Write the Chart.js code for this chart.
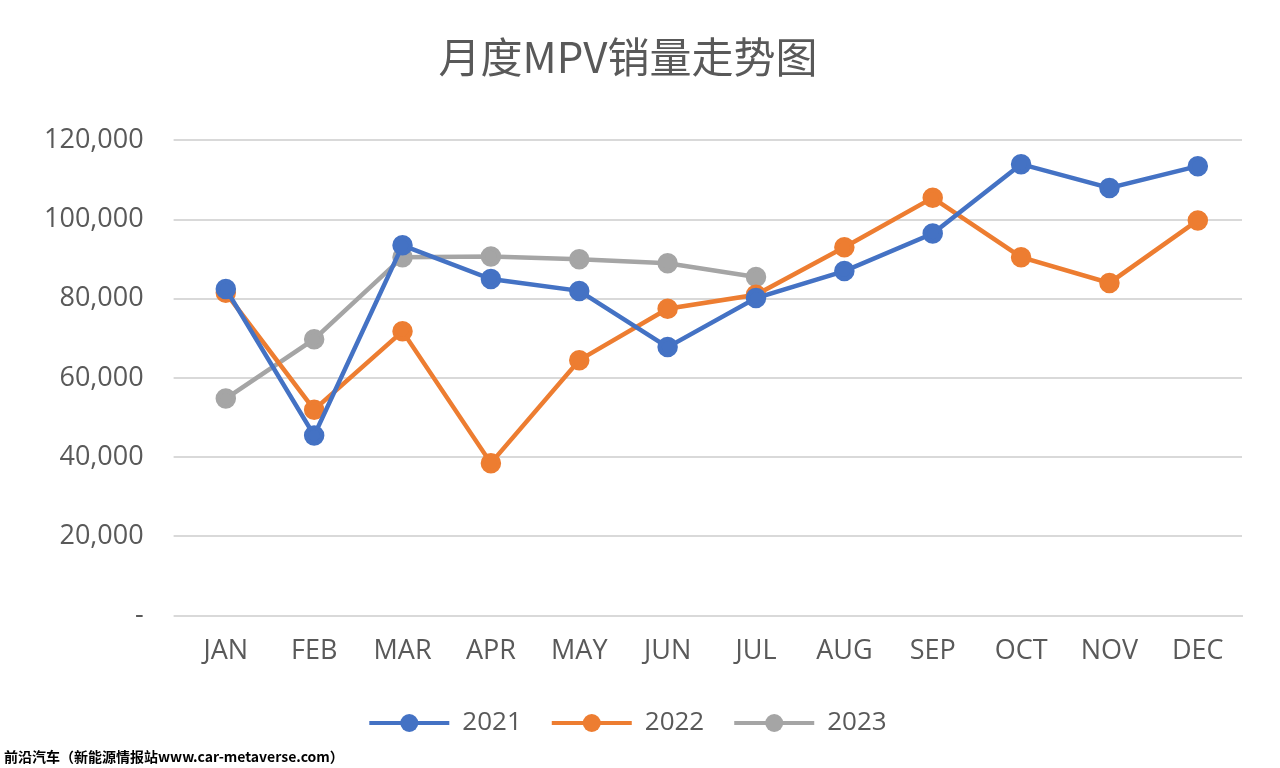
<!DOCTYPE html>
<html lang="zh-CN">
<head>
<meta charset="UTF-8">
<title>月度MPV销量走势图</title>
<script src="https://cdn.jsdelivr.net/npm/chart.js"></script>
<style>
  html, body { margin: 0; padding: 0; background: #fff; }
  #wrap { position: relative; width: 1280px; height: 768px; }
  #mark { position: absolute; left: 4px; top: 746px; font: bold 14px "Noto Sans CJK SC", sans-serif; color: #000; }
</style>
</head>
<body>
<div id="wrap">
  <canvas id="chart" width="1280" height="768"></canvas>
  <div id="mark">前沿汽车（新能源情报站www.car-metaverse.com）</div>
</div>
<script>
const months = ['JAN','FEB','MAR','APR','MAY','JUN','JUL','AUG','SEP','OCT','NOV','DEC'];
const sales2021 = [82500, 45500, 93500, 85000, 82000, 67800, 80200, 87000, 96500, 114000, 108000, 113500];
const sales2022 = [81500, 52000, 71800, 38500, 64500, 77500, 81000, 93000, 105500, 90500, 84000, 99800];
const sales2023 = [54800, 69800, 90500, 90700, 90000, 89000, 85500];

const font = '"Open Sans", "Noto Sans CJK SC", sans-serif';
function line(label, data, color) {
    return { label, data, borderColor: color, backgroundColor: color, borderWidth: 4.5,
             pointRadius: 8, pointHoverRadius: 8, tension: 0 };
}

// legend entries: line with a dot in the middle, like the original
const legendDots = {
    id: 'legendDots',
    afterDraw(chart) {
        const lg = chart.legend, ctx = chart.ctx;
        lg.legendHitBoxes.forEach((b, i) => {
            const c = chart.data.datasets[i].borderColor;
            ctx.save();
            ctx.fillStyle = c;
            ctx.beginPath();
            ctx.arc(b.left + 40, b.top + b.height / 2, 9, 0, Math.PI * 2);
            ctx.fill();
            ctx.restore();
        });
    }
};

new Chart(document.getElementById('chart'), {
    type: 'line',
    data: {
        labels: months,
        datasets: [
            line('2021', sales2021, '#4472C4'),
            line('2022', sales2022, '#ED7D31'),
            line('2023', sales2023, '#A5A5A5')
        ]
    },
    options: {
        responsive: false,
        animation: false,
        layout: { padding: { left: 14, right: 38, top: 10, bottom: 22 } },
        plugins: {
            title: { display: true, text: '月度MPV销量走势图', color: '#595959',
                     font: { family: '"Noto Sans CJK SC", sans-serif', size: 42, weight: 'normal' },
                     padding: { top: 22, bottom: 58 } },
            legend: { position: 'bottom', labels: { color: '#595959', font: { family: font, size: 26 },
                      boxWidth: 80, boxHeight: 4, padding: 30,
                      generateLabels: chart => chart.data.datasets.map((d, i) => ({
                          text: d.label, fillStyle: d.borderColor, strokeStyle: d.borderColor,
                          lineWidth: 0, fontColor: '#595959', datasetIndex: i })) } },
            tooltip: { enabled: false }
        },
        scales: {
            x: { offset: true, grid: { display: false }, border: { color: '#D9D9D9', width: 2 },
                 ticks: { color: '#595959', font: { family: font, size: 27 }, padding: 12 } },
            y: { min: 0, max: 120000, grid: { color: '#D9D9D9', lineWidth: 2 }, border: { display: false },
                 ticks: { stepSize: 20000, color: '#595959', font: { family: font, size: 27 }, padding: 30,
                          callback: v => v === 0 ? '-' : v.toLocaleString('en-US') } }
        }
    },
    plugins: [legendDots]
});
</script>
</body>
</html>
